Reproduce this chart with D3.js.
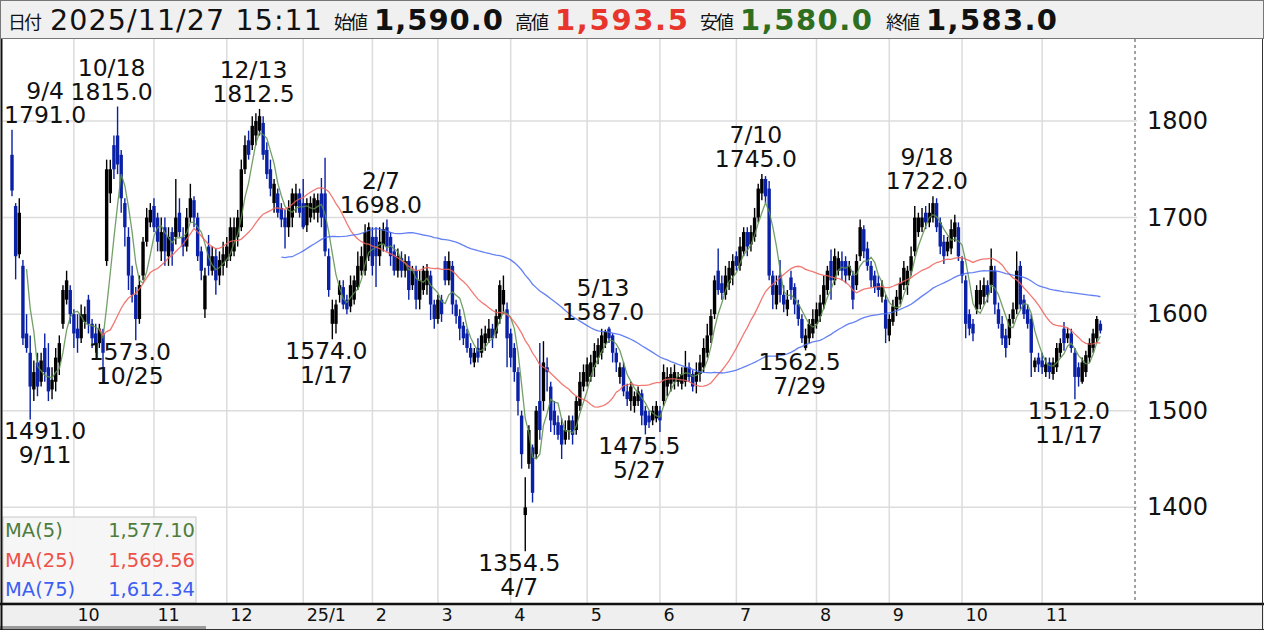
<!DOCTYPE html>
<html>
<head>
<meta charset="utf-8">
<script src="https://cdn.jsdelivr.net/npm/d3@7"></script>
<style>
  body { margin: 0; background: #fff; }
  svg { display: block; font-family: "DejaVu Sans", sans-serif; }
</style>
</head>
<body>
<svg id="chart" width="1264" height="630"></svg>
<script>
// trading calendar (TSE): weekdays between these dates minus market holidays
const firstDay = "2024-09-04";
const lastDay = "2025-11-27";
const holidays = [
  "2024-09-16", "2024-09-23", "2024-10-14", "2024-11-04", "2024-12-31",
  "2025-01-01", "2025-01-02", "2025-01-03", "2025-01-13", "2025-02-11", "2025-02-24",
  "2025-03-20", "2025-04-29", "2025-05-05", "2025-05-06", "2025-07-21", "2025-08-11",
  "2025-09-15", "2025-09-23", "2025-10-13", "2025-11-03", "2025-11-24"
];

// daily OHLC, one row per month
const opens = [
  1765,1712,1662,1650,1580,1560,1522,1550,1530,1565,1545,1522,1530,1550,1590,1615,1625,
  1600,1585,1575,1592,1615,1590,1580,1570,1580,1655,1725,1775,1785,1765,1715,1680,1640,1620,1595,1640,1675,1695,
  1712,1700,1665,1690,1660,1685,1680,1705,1680,1670,1700,1718,1700,1665,1605,1670,1645,1660,1640,1650,
  1655,1660,1665,1680,1690,1750,1780,1775,1785,1790,1798,1770,1750,1715,1725,1710,1700,1690,1700,1712,1725,
  1715,1692,1700,1705,1705,1725,1725,1660,1590,1590,1620,1628,1615,1608,1615,1628,1645,1645,1660,
  1680,1680,1660,1672,1690,1680,1665,1645,1658,1645,1655,1630,1645,1615,1625,1630,1640,1610,
  1595,1615,1655,1635,1650,1610,1598,1588,1580,1565,1550,1565,1560,1570,1575,1585,1580,1595,1610,1605,
  1580,1565,1540,1495,1392,1445,1462,1455,1510,1510,1545,1525,1500,1488,1485,1470,1480,1490,1480,1505,1525,
  1530,1535,1545,1555,1560,1570,1585,1578,1560,1535,1545,1520,1510,1505,1510,1518,1500,1495,1490,1492,
  1500,1510,1525,1528,1530,1530,1528,1530,1545,1538,1530,1538,1545,1560,1578,1600,1645,1632,1620,1632,1640,
  1660,1650,1665,1685,1672,1680,1700,1725,1740,1730,1640,1610,1640,1620,1605,1638,1628,1610,1595,1565,1575,1580,
  1590,1598,1610,1625,1655,1635,1645,1655,1655,1640,1640,1630,1660,1688,1668,1650,1640,1632,1618,1615,
  1578,1592,1605,1615,1630,1630,1645,1665,1685,1690,1705,1695,1700,1715,1695,1675,1665,1668,1680,1690,
  1655,1635,1600,1590,1605,1610,1618,1630,1630,1645,1605,1590,1578,1575,1595,1605,1650,1615,1605,1595,1545,1555,
  1552,1540,1550,1538,1545,1560,1585,1575,1580,1560,1545,1530,1540,1555,1565,1575,1590
];
const highs = [
  1791,1715,1720,1656,1600,1578,1552,1560,1560,1580,1570,1545,1565,1578,1630,1645,1630,
  1605,1600,1610,1608,1620,1595,1590,1590,1585,1760,1760,1785,1815,1770,1720,1690,1650,1628,1640,1680,1710,1715,
  1720,1705,1700,1700,1690,1690,1740,1720,1690,1710,1735,1722,1705,1670,1648,1682,1670,1668,1665,1675,
  1680,1700,1700,1708,1760,1785,1790,1805,1808,1812.5,1805,1778,1760,1740,1730,1715,1708,1718,1730,1735,1730,
  1740,1720,1722,1725,1725,1741,1762,1668,1615,1615,1635,1635,1620,1640,1640,1665,1670,1693,1695,
  1690,1690,1690,1695,1698,1685,1672,1668,1665,1662,1660,1650,1650,1645,1650,1652,1645,1615,
  1620,1620,1660,1665,1655,1615,1605,1592,1585,1570,1565,1575,1585,1588,1595,1590,1605,1635,1640,1612,
  1585,1570,1545,1500,1431,1485,1465,1505,1570,1572,1555,1530,1510,1495,1492,1490,1495,1495,1515,1540,1548,
  1555,1558,1570,1575,1585,1584,1587,1580,1565,1550,1550,1528,1530,1520,1525,1522,1505,1500,1505,1510,
  1505,1548,1545,1545,1548,1540,1545,1562,1550,1542,1550,1558,1575,1590,1605,1640,1668,1640,1650,1655,1662,
  1665,1680,1690,1690,1692,1710,1735,1745,1743,1738,1645,1640,1656,1630,1625,1645,1632,1615,1600,1585,1595,1605,
  1612,1620,1640,1650,1667,1668,1665,1665,1660,1655,1645,1662,1698,1692,1675,1655,1645,1640,1635,1620,
  1600,1615,1625,1638,1655,1650,1670,1712,1705,1710,1712,1715,1722,1720,1700,1682,1680,1698,1703,1695,
  1660,1640,1605,1595,1630,1635,1638,1635,1668,1650,1612,1598,1585,1600,1612,1665,1655,1620,1610,1600,1555,1560,
  1560,1555,1555,1555,1570,1575,1592,1586,1585,1565,1550,1555,1562,1575,1585,1598,1593.5
];
const lows = [
  1722,1636,1658,1568,1560,1491,1510,1515,1525,1530,1510,1512,1520,1537,1585,1610,1590,
  1565,1560,1570,1585,1580,1565,1560,1565,1528,1650,1715,1740,1745,1705,1670,1625,1612,1573,1590,1635,1670,1690,
  1685,1665,1655,1650,1650,1650,1672,1680,1660,1665,1695,1690,1655,1635,1596,1640,1640,1620,1630,1640,
  1648,1655,1660,1670,1686,1745,1760,1770,1775,1785,1760,1740,1722,1705,1700,1690,1668,1680,1690,1705,1700,
  1688,1685,1695,1698,1695,1690,1660,1618,1574,1580,1612,1605,1600,1602,1610,1625,1640,1640,1655,
  1640,1628,1650,1665,1665,1650,1640,1638,1638,1638,1615,1625,1605,1605,1620,1620,1594,1585,
  1590,1592,1630,1630,1600,1590,1573,1568,1560,1548,1545,1550,1555,1562,1570,1565,1575,1590,1600,1545,
  1545,1530,1495,1440,1354.5,1440,1405,1450,1470,1500,1520,1478,1475,1470,1450,1465,1470,1465,1475,1500,1520,
  1525,1530,1535,1548,1553,1565,1570,1550,1540,1528,1515,1505,1500,1498,1505,1485,1475.5,1482,1485,1488,
  1478,1505,1515,1520,1522,1525,1522,1525,1530,1520,1518,1530,1540,1555,1570,1595,1620,1615,1615,1625,1630,
  1645,1645,1660,1660,1665,1675,1695,1718,1715,1635,1605,1605,1612,1602,1598,1615,1600,1588,1570,1562.5,1570,1575,
  1585,1592,1605,1620,1615,1630,1640,1635,1632,1635,1605,1625,1655,1658,1645,1628,1622,1618,1612,1570,
  1572,1588,1598,1610,1625,1620,1640,1660,1680,1685,1688,1690,1695,1685,1662,1652,1660,1662,1675,1655,
  1632,1575,1578,1572,1600,1605,1610,1612,1622,1600,1585,1568,1555,1568,1590,1600,1605,1595,1585,1535,1540,1540,
  1538,1535,1533,1532,1540,1555,1562,1570,1560,1512,1525,1528,1535,1550,1560,1570,1580
];
const closes = [
  1728,1660,1705,1575,1565,1525,1540,1525,1552,1540,1520,1532,1555,1570,1625,1635,1600,
  1580,1575,1600,1600,1590,1575,1568,1585,1560,1750,1750,1750,1755,1720,1690,1640,1620,1595,1630,1675,1700,1708,
  1690,1675,1685,1665,1680,1665,1700,1685,1670,1700,1720,1700,1660,1645,1640,1650,1660,1635,1656,1662,
  1670,1690,1690,1700,1750,1775,1765,1795,1800,1805,1765,1745,1730,1735,1705,1698,1690,1710,1725,1725,1705,
  1690,1715,1715,1720,1718,1700,1665,1625,1605,1610,1630,1610,1605,1630,1635,1650,1660,1685,1690,
  1650,1660,1675,1688,1670,1660,1645,1660,1645,1655,1625,1645,1615,1635,1645,1645,1610,1595,
  1615,1600,1635,1655,1610,1598,1585,1575,1565,1555,1560,1555,1578,1580,1585,1575,1598,1630,1625,1575,
  1555,1540,1510,1455,1400,1480,1415,1500,1480,1550,1540,1490,1485,1475,1465,1480,1490,1475,1510,1530,1540,
  1548,1550,1562,1568,1578,1582,1575,1560,1550,1545,1520,1512,1525,1515,1520,1495,1485,1488,1500,1505,
  1490,1540,1535,1538,1540,1535,1538,1545,1535,1525,1540,1550,1565,1578,1598,1635,1625,1622,1640,1648,1655,
  1650,1670,1685,1670,1685,1700,1730,1740,1722,1640,1620,1630,1620,1610,1615,1625,1610,1595,1575,1578,1590,1595,
  1605,1612,1630,1645,1635,1660,1658,1645,1640,1650,1615,1655,1690,1665,1650,1635,1628,1625,1628,1585,
  1595,1608,1618,1632,1648,1645,1660,1700,1700,1700,1695,1705,1715,1690,1670,1660,1675,1688,1695,1660,
  1640,1590,1585,1580,1625,1625,1630,1620,1650,1610,1590,1575,1565,1595,1605,1645,1610,1600,1590,1560,1552,1548,
  1545,1548,1540,1550,1565,1570,1570,1580,1565,1535,1535,1550,1557.5,1570,1580,1595,1583
];

// labelled highs and lows
const highMarks = ["2024-09-04", "2024-10-18", "2024-12-13", "2025-02-07", "2025-05-13", "2025-07-10", "2025-09-18"];
const lowMarks = ["2024-09-11", "2024-10-25", "2025-01-17", "2025-04-07", "2025-05-27", "2025-07-29", "2025-11-17"];

const yTicks = [1400, 1500, 1600, 1700, 1800];
const maPeriods = [5, 25, 75];
const maNames = ["MA(5)", "MA(25)", "MA(75)"];
const maLast = ["1,577.10", "1,569.56", "1,612.34"];
const maColors = ["#5b8f4c", "#f0625a", "#4a6cf2"];
const maText = ["#4e7d3e", "#ee5148", "#3d5ef2"];

// header pieces: text, kind, colour, [left, right] extent in the strip
const headerParts = [
  { t: "日付", k: "jp", span: [8, 42] },
  { t: "2025/11/27 15:11", k: "date", span: [50, 322] },
  { t: "始値", k: "jp", span: [334, 368] },
  { t: "1,590.0", k: "num", c: "#111", span: [374, 503] },
  { t: "高値", k: "jp", span: [515, 549] },
  { t: "1,593.5", k: "num", c: "#e8352b", span: [555, 688] },
  { t: "安値", k: "jp", span: [700, 734] },
  { t: "1,580.0", k: "num", c: "#2f6e1f", span: [740, 872] },
  { t: "終値", k: "jp", span: [886, 920] },
  { t: "1,583.0", k: "num", c: "#111", span: [926, 1057] }
];

// ---- build dates ----
const parse = d3.utcParse("%Y-%m-%d");
const fmt = d3.utcFormat("%Y-%m-%d");
const holidaySet = new Set(holidays);
const dates = d3.utcDay.range(parse(firstDay), d3.utcDay.offset(parse(lastDay), 1))
  .filter(d => d.getUTCDay() !== 0 && d.getUTCDay() !== 6 && !holidaySet.has(fmt(d)));
if (dates.length !== closes.length) console.error("date count", dates.length, closes.length);

const W = 1264, H = 630;
const plot = { left: 3, right: 1135, top: 39, bottom: 603 };

const x = d3.scaleLinear().domain([0, dates.length - 1]).range([12, 1100.4]);
const y = d3.scaleLinear().domain([1400, 1800]).range([507.3, 121]);

const svg = d3.select("#chart");
svg.append("rect").attr("width", W).attr("height", H).attr("fill", "#fff");

// month starts
const monthStarts = dates.map((d, i) => i).filter(i => i > 0 && dates[i].getUTCMonth() !== dates[i - 1].getUTCMonth());

// grid
const grid = svg.append("g");
grid.selectAll("line.h").data(yTicks).join("line")
  .attr("x1", plot.left).attr("x2", 1137)
  .attr("y1", d => y(d)).attr("y2", d => y(d))
  .attr("stroke", "#dcdcdc").attr("stroke-width", 1.5);
grid.selectAll("line.v").data(monthStarts).join("line")
  .attr("x1", d => x(d)).attr("x2", d => x(d))
  .attr("y1", plot.top).attr("y2", plot.bottom)
  .attr("stroke", "#dcdcdc").attr("stroke-width", 1.5);

// candles
const idx = d3.range(dates.length);
const cg = svg.append("g");
const col = i => closes[i] >= opens[i] ? "#000" : "#0a20a6";
cg.selectAll("line").data(idx).join("line")
  .attr("x1", i => x(i)).attr("x2", i => x(i))
  .attr("y1", i => y(highs[i])).attr("y2", i => y(lows[i]))
  .attr("stroke", col).attr("stroke-width", 1.4);
cg.selectAll("rect").data(idx).join("rect")
  .attr("x", i => x(i) - 1.7).attr("width", 3.4)
  .attr("y", i => y(Math.max(opens[i], closes[i])))
  .attr("height", i => Math.max(1.2, Math.abs(y(opens[i]) - y(closes[i]))))
  .attr("fill", col);

// moving averages
maPeriods.forEach((p, k) => {
  const ma = idx.map(i => i < p - 1 ? null : d3.mean(closes.slice(i - p + 1, i + 1)));
  svg.append("path")
    .datum(idx)
    .attr("fill", "none")
    .attr("stroke", maColors[k])
    .attr("stroke-width", 1.3)
    .attr("opacity", 0.85)
    .attr("d", d3.line().defined(i => ma[i] !== null).x(i => x(i)).y(i => y(ma[i])));
});

// high / low annotations
const md = d3.utcFormat("%-m/%-d");
const ann = svg.append("g").attr("font-size", 23.5).attr("fill", "#111").attr("text-anchor", "middle");
function place(i, lines, baseY) {
  const g = ann.append("g");
  lines.forEach((t, j) => g.append("text").attr("y", baseY[j]).text(t));
  const w = g.node().getBBox().width;
  const cx = Math.max(x(i) - 6, plot.left + w / 2 + 1);
  g.attr("transform", `translate(${cx},0)`);
}
highMarks.forEach(s => {
  const i = dates.findIndex(d => fmt(d) === s);
  const yy = y(highs[i]);
  place(i, [md(dates[i]), highs[i].toFixed(1)], [yy - 31, yy - 7]);
});
lowMarks.forEach(s => {
  const i = dates.findIndex(d => fmt(d) === s);
  const yy = y(lows[i]);
  place(i, [lows[i].toFixed(1), md(dates[i])], [yy + 20, yy + 44]);
});

// dashed right edge of plot
svg.append("line").attr("x1", 1135).attr("x2", 1135).attr("y1", plot.top).attr("y2", plot.bottom)
  .attr("stroke", "#444").attr("stroke-dasharray", "3,3");

// right axis
const ya = svg.append("g").attr("transform", "translate(1137,0)")
  .call(d3.axisRight(y).tickValues(yTicks).tickSize(0).tickPadding(10).tickFormat(d3.format("d")));
ya.select(".domain").remove();
ya.selectAll("text").attr("font-size", 24).attr("font-family", "DejaVu Sans").attr("fill", "#111");

// legend
const lg = svg.append("g");
lg.append("rect").attr("x", 3).attr("y", 517).attr("width", 193).attr("height", 86)
  .attr("fill", "#f5f5f5").attr("fill-opacity", 0.92).attr("stroke", "#c8c8c8");
maNames.forEach((n, k) => {
  lg.append("text").attr("x", 5).attr("y", 537 + k * 29.5).attr("font-size", 19.5)
    .attr("fill", maText[k]).text(n);
  lg.append("text").attr("x", 195).attr("y", 537 + k * 29.5).attr("font-size", 19.5)
    .attr("text-anchor", "end").attr("fill", maText[k]).text(maLast[k]);
});

// bottom axis strip
svg.append("rect").attr("x", 0).attr("y", 604).attr("width", W).attr("height", 26).attr("fill", "#efefef");
const xa = svg.append("g").attr("transform", "translate(0,604)")
  .call(d3.axisBottom(x).tickValues(monthStarts).tickSize(0).tickPadding(5)
    .tickFormat(i => {
      const d = dates[i], m = d.getUTCMonth() + 1;
      return m === 1 ? `${String(d.getUTCFullYear()).slice(2)}/1` : `${m}`;
    }));
xa.select(".domain").remove();
xa.selectAll("text").attr("font-size", 17.5).attr("font-family", "DejaVu Sans").attr("fill", "#111")
  .attr("text-anchor", "start").attr("dx", 3);
svg.append("rect").attr("x", 0).attr("y", 626).attr("width", 206).attr("height", 3).attr("fill", "#9a9a9a");

// frame lines
svg.append("line").attr("x1", 0).attr("x2", W).attr("y1", 604).attr("y2", 604).attr("stroke", "#111").attr("stroke-width", 2.5);
svg.append("line").attr("x1", 0).attr("x2", W).attr("y1", 629.5).attr("y2", 629.5).attr("stroke", "#333");
svg.append("line").attr("x1", 1.5).attr("x2", 1.5).attr("y1", 38).attr("y2", 630).attr("stroke", "#111").attr("stroke-width", 2);
svg.append("line").attr("x1", 1262.5).attr("x2", 1262.5).attr("y1", 0).attr("y2", 630).attr("stroke", "#333");

// header
svg.append("rect").attr("x", 0.5).attr("y", 0.5).attr("width", W - 1).attr("height", 38)
  .attr("fill", "#f0f0f0").attr("stroke", "#777");
const hg = svg.append("g");
headerParts.forEach(p => {
  const t = hg.append("text").attr("x", p.span[0]).attr("y", 30).text(p.t)
    .attr("textLength", p.span[1] - p.span[0]).attr("lengthAdjust", "spacing");
  if (p.k === "jp") t.attr("font-family", "Noto Sans CJK JP").attr("font-size", 18).attr("fill", "#111").attr("y", 29);
  if (p.k === "date") t.attr("font-size", 28.5).attr("fill", "#111");
  if (p.k === "num") t.attr("font-size", 29).attr("font-weight", "bold").attr("fill", p.c);
});
</script>
</body>
</html>
